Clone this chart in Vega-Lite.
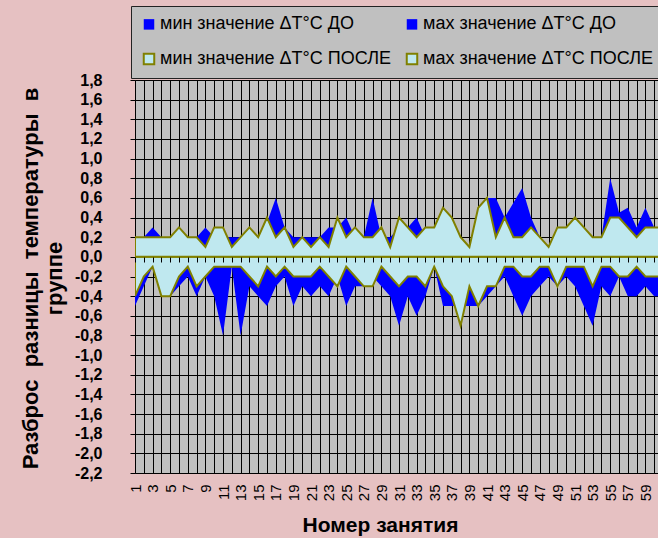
{
  "$schema": "https://vega.github.io/schema/vega-lite/v6.json",
  "width": 523,
  "height": 393,
  "autosize": {"type": "none"},
  "padding": {"left": 135, "top": 80, "right": 0, "bottom": 65},
  "background": "#e6c1c2",
  "config": {
    "font": "Liberation Sans",
    "view": {"fill": "#c0c0c0", "stroke": null}
  },
  "data": {
    "values": [
      {"n": 1, "a": -0.5, "b": 0.2, "c": -0.4, "d": 0.2},
      {"n": 2, "a": -0.3, "b": 0.2, "c": -0.2, "d": 0.2},
      {"n": 3, "a": -0.1, "b": 0.3, "c": -0.1, "d": 0.2},
      {"n": 4, "a": -0.4, "b": 0.2, "c": -0.4, "d": 0.2},
      {"n": 5, "a": -0.4, "b": 0.2, "c": -0.4, "d": 0.2},
      {"n": 6, "a": -0.3, "b": 0.2, "c": -0.2, "d": 0.3},
      {"n": 7, "a": -0.2, "b": 0.2, "c": -0.1, "d": 0.2},
      {"n": 8, "a": -0.4, "b": 0.2, "c": -0.3, "d": 0.2},
      {"n": 9, "a": -0.2, "b": 0.3, "c": -0.2, "d": 0.1},
      {"n": 10, "a": -0.4, "b": 0.2, "c": -0.1, "d": 0.3},
      {"n": 11, "a": -0.8, "b": 0.2, "c": -0.1, "d": 0.3},
      {"n": 12, "a": -0.1, "b": 0.2, "c": -0.1, "d": 0.1},
      {"n": 13, "a": -0.8, "b": 0.2, "c": -0.1, "d": 0.2},
      {"n": 14, "a": -0.3, "b": 0.2, "c": -0.2, "d": 0.3},
      {"n": 15, "a": -0.4, "b": 0.2, "c": -0.3, "d": 0.2},
      {"n": 16, "a": -0.5, "b": 0.35, "c": -0.1, "d": 0.4},
      {"n": 17, "a": -0.3, "b": 0.6, "c": -0.2, "d": 0.2},
      {"n": 18, "a": -0.2, "b": 0.3, "c": -0.1, "d": 0.3},
      {"n": 19, "a": -0.5, "b": 0.2, "c": -0.2, "d": 0.1},
      {"n": 20, "a": -0.3, "b": 0.2, "c": -0.2, "d": 0.2},
      {"n": 21, "a": -0.4, "b": 0.2, "c": -0.2, "d": 0.1},
      {"n": 22, "a": -0.3, "b": 0.2, "c": -0.1, "d": 0.2},
      {"n": 23, "a": -0.4, "b": 0.3, "c": -0.2, "d": 0.1},
      {"n": 24, "a": -0.2, "b": 0.3, "c": -0.3, "d": 0.4},
      {"n": 25, "a": -0.5, "b": 0.4, "c": -0.1, "d": 0.2},
      {"n": 26, "a": -0.3, "b": 0.2, "c": -0.2, "d": 0.3},
      {"n": 27, "a": -0.3, "b": 0.2, "c": -0.3, "d": 0.2},
      {"n": 28, "a": -0.2, "b": 0.6, "c": -0.3, "d": 0.2},
      {"n": 29, "a": -0.3, "b": 0.2, "c": -0.1, "d": 0.3},
      {"n": 30, "a": -0.4, "b": 0.2, "c": -0.2, "d": 0.1},
      {"n": 31, "a": -0.7, "b": 0.3, "c": -0.3, "d": 0.4},
      {"n": 32, "a": -0.4, "b": 0.3, "c": -0.2, "d": 0.3},
      {"n": 33, "a": -0.6, "b": 0.4, "c": -0.2, "d": 0.2},
      {"n": 34, "a": -0.4, "b": 0.2, "c": -0.3, "d": 0.3},
      {"n": 35, "a": -0.1, "b": 0.2, "c": -0.1, "d": 0.3},
      {"n": 36, "a": -0.5, "b": 0.3, "c": -0.3, "d": 0.5},
      {"n": 37, "a": -0.5, "b": 0.3, "c": -0.4, "d": 0.4},
      {"n": 38, "a": -0.5, "b": 0.2, "c": -0.7, "d": 0.2},
      {"n": 39, "a": -0.5, "b": 0.1, "c": -0.3, "d": 0.1},
      {"n": 40, "a": -0.5, "b": 0.5, "c": -0.5, "d": 0.5},
      {"n": 41, "a": -0.4, "b": 0.6, "c": -0.3, "d": 0.6},
      {"n": 42, "a": -0.3, "b": 0.6, "c": -0.3, "d": 0.2},
      {"n": 43, "a": -0.2, "b": 0.4, "c": -0.1, "d": 0.4},
      {"n": 44, "a": -0.4, "b": 0.55, "c": -0.1, "d": 0.2},
      {"n": 45, "a": -0.6, "b": 0.7, "c": -0.2, "d": 0.2},
      {"n": 46, "a": -0.4, "b": 0.4, "c": -0.2, "d": 0.3},
      {"n": 47, "a": -0.3, "b": 0.2, "c": -0.1, "d": 0.2},
      {"n": 48, "a": -0.2, "b": 0.1, "c": -0.1, "d": 0.1},
      {"n": 49, "a": -0.3, "b": 0.3, "c": -0.3, "d": 0.3},
      {"n": 50, "a": -0.2, "b": 0.3, "c": -0.1, "d": 0.3},
      {"n": 51, "a": -0.3, "b": 0.4, "c": -0.1, "d": 0.4},
      {"n": 52, "a": -0.5, "b": 0.3, "c": -0.1, "d": 0.3},
      {"n": 53, "a": -0.7, "b": 0.2, "c": -0.3, "d": 0.2},
      {"n": 54, "a": -0.3, "b": 0.2, "c": -0.1, "d": 0.2},
      {"n": 55, "a": -0.4, "b": 0.8, "c": -0.1, "d": 0.4},
      {"n": 56, "a": -0.2, "b": 0.45, "c": -0.2, "d": 0.4},
      {"n": 57, "a": -0.4, "b": 0.5, "c": -0.2, "d": 0.3},
      {"n": 58, "a": -0.4, "b": 0.3, "c": -0.1, "d": 0.2},
      {"n": 59, "a": -0.3, "b": 0.5, "c": -0.2, "d": 0.3},
      {"n": 60, "a": -0.4, "b": 0.3, "c": -0.2, "d": 0.3},
      {"n": 61, "a": -0.4, "b": 0.3, "c": -0.2, "d": 0.3}
    ]
  },
  "transform": [{"fold": ["a", "b", "c", "d"], "as": ["s", "v"]}],
  "encoding": {
    "y": {
      "field": "v",
      "type": "quantitative",
      "stack": null,
      "scale": {"domain": [-2.2, 1.8], "nice": false, "zero": false},
      "axis": {
        "values": [-2.2, -2, -1.8, -1.6, -1.4, -1.2, -1, -0.8, -0.6, -0.4, -0.2, 0, 0.2, 0.4, 0.6, 0.8, 1, 1.2, 1.4, 1.6, 1.8],
        "grid": true,
        "gridColor": "#000000",
        "gridOpacity": 1,
        "gridWidth": 1,
        "domain": true,
        "domainColor": "#000000",
        "domainWidth": 1,
        "ticks": true,
        "tickColor": "#000000",
        "tickSize": 5,
        "labelExpr": "replace(replace(format(datum.value, '.1f'), '.', ','), '\u2212', '-')",
        "labelFont": "Liberation Sans",
        "labelFontSize": 16,
        "labelFontWeight": "bold",
        "labelColor": "#000000",
        "labelPadding": 28,
        "labelOverlap": false,
        "labelBound": false,
        "labelFlush": false,
        "title": ["Разброс\u00a0\u00a0разницы\u00a0\u00a0температуры\u00a0\u00a0в", "группе"],
        "titleFont": "Liberation Sans",
        "titleFontSize": 22,
        "titleFontWeight": "bold",
        "titleColor": "#000000",
        "titleAngle": -90,
        "titleX": -98,
        "titleY": 198,
        "titleAlign": "center",
        "titleBaseline": "alphabetic",
        "titleLineHeight": 24
      }
    },
    "y2": {"datum": 0}
  },
  "layer": [
    {
      "transform": [{"filter": "datum.s == 'a' || datum.s == 'b'"}],
      "mark": {"type": "area", "clip": true, "strokeWidth": 0},
      "encoding": {
        "x": {
          "field": "n",
          "type": "quantitative",
          "scale": {"domain": [1, 60.43], "nice": false, "zero": false},
          "axis": {
            "values": [1,2,3,4,5,6,7,8,9,10,11,12,13,14,15,16,17,18,19,20,21,22,23,24,25,26,27,28,29,30,31,32,33,34,35,36,37,38,39,40,41,42,43,44,45,46,47,48,49,50,51,52,53,54,55,56,57,58,59,60,61],
            "orient": "bottom",
            "grid": true,
            "gridColor": "#000000",
            "gridOpacity": 1,
            "gridWidth": 1,
            "domain": false,
            "ticks": false,
            "labelAngle": -90,
            "labelAlign": "right",
            "labelBaseline": "middle",
            "labelExpr": "datum.value % 2 == 1 ? datum.label : ''",
            "labelFont": "Liberation Sans",
            "labelFontSize": 15,
            "labelColor": "#000000",
            "labelPadding": 11,
            "labelOverlap": false,
            "labelBound": false,
            "labelFlush": false,
            "title": "Номер занятия",
            "titleFont": "Liberation Sans",
            "titleFontSize": 21,
            "titleFontWeight": "bold",
            "titleColor": "#000000",
            "titleX": 245,
            "titleY": 58,
            "titleAlign": "center",
            "titleBaseline": "alphabetic"
          }
        },
        "fill": {
          "field": "s",
          "type": "nominal",
          "scale": {"domain": ["a", "c", "b", "d"], "range": ["#0000ff", "#bfe8ef", "#0000ff", "#bfe8ef"]},
          "legend": {
            "orient": "none",
            "legendX": -4,
            "legendY": -74,
            "columns": 2,
            "title": null,
            "fillColor": "#c0c0c0",
            "strokeColor": "#222222",
            "padding": 9,
            "symbolType": "square",
            "symbolSize": 110,
            "symbolStrokeWidth": 2,
            "symbolOpacity": 1,
            "labelFont": "Liberation Sans",
            "labelFontSize": 18,
            "labelColor": "#000000",
            "labelOffset": 2,
            "labelLimit": 400,
            "columnPadding": 11,
            "rowPadding": 15,
            "labelExpr": "datum.label == 'a' ? 'мин значение ΔT°C ДО' : datum.label == 'b' ? 'мах значение ΔT°C ДО' : datum.label == 'c' ? 'мин значение ΔT°C ПОСЛЕ' : 'мах значение ΔT°C ПОСЛЕ'"
          }
        },
        "stroke": {
          "field": "s",
          "type": "nominal",
          "scale": {"domain": ["a", "c", "b", "d"], "range": ["rgba(0,0,0,0)", "#808000", "rgba(0,0,0,0)", "#808000"]},
          "legend": {
            "orient": "none",
            "legendX": -4,
            "legendY": -74,
            "columns": 2,
            "title": null,
            "fillColor": "#c0c0c0",
            "strokeColor": "#222222",
            "padding": 9,
            "symbolType": "square",
            "symbolSize": 110,
            "symbolStrokeWidth": 2,
            "symbolOpacity": 1,
            "labelFont": "Liberation Sans",
            "labelFontSize": 18,
            "labelColor": "#000000",
            "labelOffset": 2,
            "labelLimit": 400,
            "columnPadding": 11,
            "rowPadding": 15,
            "labelExpr": "datum.label == 'a' ? 'мин значение ΔT°C ДО' : datum.label == 'b' ? 'мах значение ΔT°C ДО' : datum.label == 'c' ? 'мин значение ΔT°C ПОСЛЕ' : 'мах значение ΔT°C ПОСЛЕ'"
          }
        }
      }
    },
    {
      "transform": [{"filter": "datum.s == 'c' || datum.s == 'd'"}],
      "mark": {"type": "area", "clip": true, "strokeWidth": 2, "fillOpacity": 1},
      "encoding": {
        "x": {
          "field": "n",
          "type": "quantitative",
          "scale": {"domain": [1, 60.43], "nice": false, "zero": false},
          "axis": {
            "values": [1,2,3,4,5,6,7,8,9,10,11,12,13,14,15,16,17,18,19,20,21,22,23,24,25,26,27,28,29,30,31,32,33,34,35,36,37,38,39,40,41,42,43,44,45,46,47,48,49,50,51,52,53,54,55,56,57,58,59,60,61],
            "orient": "bottom",
            "offset": -216,
            "grid": false,
            "labels": false,
            "domain": false,
            "ticks": true,
            "tickSize": 5,
            "tickColor": "#000000",
            "title": null,
            "zindex": 1
          }
        },
        "fill": {"field": "s", "type": "nominal", "scale": {"domain": ["a", "c", "b", "d"], "range": ["#0000ff", "#bfe8ef", "#0000ff", "#bfe8ef"]}},
        "stroke": {"field": "s", "type": "nominal", "scale": {"domain": ["a", "c", "b", "d"], "range": ["rgba(0,0,0,0)", "#808000", "rgba(0,0,0,0)", "#808000"]}}
      }
    }
  ],
  "resolve": {"axis": {"x": "independent"}}
}
